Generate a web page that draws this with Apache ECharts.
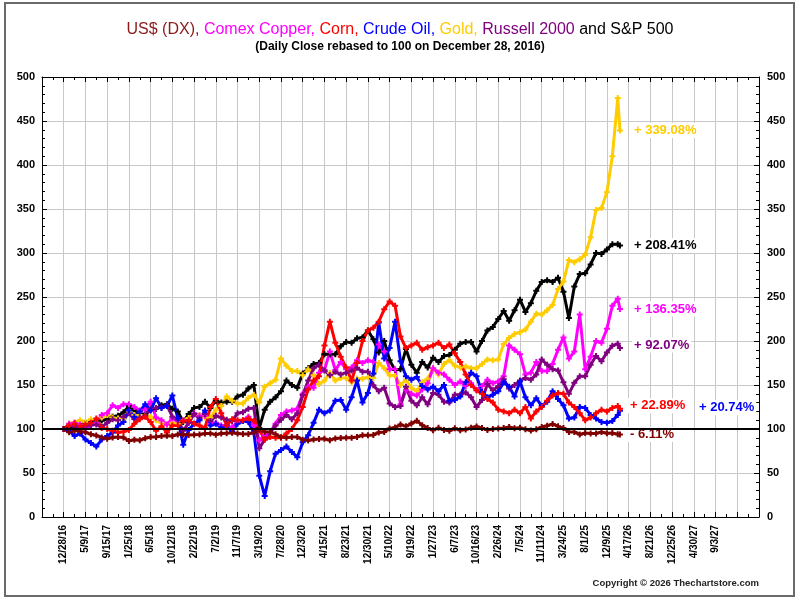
<!DOCTYPE html>
<html>
<head>
    <meta charset="utf-8"/>
    <title>US$ (DX), Comex Copper, Corn, Crude Oil, Gold, Russell 2000 and S&P 500</title>
    <script src="https://cdn.jsdelivr.net/npm/echarts/dist/echarts.min.js"></script>
    <style>
        html, body { margin: 0; padding: 0; background: #fff; }
        #main { position: absolute; left: 0; top: 0; width: 800px; height: 600px; }
        #frame { position: absolute; left: 4px; top: 2px; width: 791px; height: 595px;
                 border: 2px solid #6a6a6a; box-sizing: border-box; pointer-events: none; }
    </style>
</head>
<body>
<div id="main"></div>
<div id="frame"></div>
<script>
    // tick labels, one every 90 trading days starting 12/28/16
    var xLabels = ['12/28/16', '5/9/17', '9/15/17', '1/25/18', '6/5/18', '10/12/18', '2/22/19', '7/2/19',
        '11/7/19', '3/19/20', '7/28/20', '12/3/20', '4/15/21', '8/23/21', '12/30/21', '5/10/22', '9/19/22',
        '1/27/23', '6/7/23', '10/16/23', '2/26/24', '7/5/24', '11/11/24', '3/24/25', '8/1/25', '12/9/25',
        '4/17/26', '8/21/26', '12/25/26', '4/30/27', '9/3/27'];

    var spx = [100, 101, 106, 104.5, 106.5, 108, 108.6, 109.6, 111, 114, 115, 119,
        126, 121, 117, 117, 122, 123, 127, 128, 123, 120, 108, 117,
        124, 125, 131, 124, 132, 130, 131, 131, 137, 139, 146, 150,
        101, 122, 131, 136, 143, 155, 150, 147, 163, 169, 174, 175,
        185, 185, 185, 194, 199, 198, 203, 204, 212, 202, 187, 200,
        178, 167, 168, 191, 173, 164, 176, 170, 181, 176, 183, 184,
        190, 197, 199, 199, 188, 200, 212, 216, 225, 234, 223, 235,
        247, 233, 243, 257, 267, 269, 267, 272, 256, 226, 262, 276,
        277, 287, 300, 299, 304, 310, 310, 308.41];

    var gold = [100, 106, 107.5, 110, 107.6, 111, 107, 113, 116, 113, 112, 111,
        119, 116, 116, 115, 114, 110, 107, 105, 107, 106, 109, 112.5,
        117, 116, 113, 113, 122, 126, 137, 132, 129, 129, 135.5, 139,
        130, 148, 152, 156, 180, 172, 166, 166, 161, 168, 161, 151,
        155, 164, 155, 158, 158, 153, 157, 157, 159, 158, 175, 169,
        161, 160.5, 150, 156, 147, 143, 153, 157, 169, 162, 174, 178,
        172, 170, 171, 169, 169, 174, 179, 178, 179, 196.5, 203.5, 208,
        210, 213, 222, 231, 230, 235, 241, 259, 267.5, 292, 289.5, 293,
        298, 318, 349, 351, 369, 410, 476, 439.08];

    var copper = [100, 106, 107, 105, 100, 104, 107, 116, 118, 127, 124, 128,
        128, 125, 121, 122, 131, 113, 110, 105, 112, 109, 110, 107,
        118, 115, 115, 106, 107, 104, 103, 102, 108, 110, 114, 104,
        87, 93, 96, 106, 116, 120, 121, 123, 140, 148, 147, 164,
        167, 188, 167, 176, 168, 170, 178, 175, 178, 176, 196, 188,
        168, 168, 128, 144, 140, 138, 145, 152, 169, 164, 162, 156,
        150, 154, 149, 152, 144, 149, 156, 152, 154, 160, 195, 190,
        185, 162, 164, 176, 166, 166, 174, 190, 204, 180, 188, 230,
        168, 182, 200, 198, 214, 240, 248, 236.35];

    var russell = [100, 100.4, 103, 100, 103, 104.6, 105, 102.4, 107, 111, 110, 114,
        118, 111, 113, 115, 123, 124, 124.5, 127, 114, 110.5, 98, 107,
        117, 112, 117, 109, 115, 113, 110.5, 109, 118, 119, 123, 124,
        78, 88, 96, 104, 110.5, 116, 111, 118, 138.5, 155, 169, 173,
        166.5, 161, 165, 162, 164, 166.5, 169.5, 165, 165, 149.6, 143, 147,
        129, 125, 126, 148, 132, 127, 136, 128, 141, 139, 131, 130,
        139, 139, 141.5, 136, 125, 133, 151, 144, 148.5, 156.6, 146, 150,
        155, 158, 156, 162, 179, 173, 168, 166.5, 153, 140, 152.5, 160,
        160, 173, 183, 177, 187, 194.5, 197, 192.07];

    var corn = [100, 104, 106, 103, 105, 107, 112, 101, 100, 98, 96, 97,
        99, 106, 111, 114, 108, 98, 103, 96, 104, 104, 109, 110,
        106, 104, 101, 125, 134, 118, 104, 111, 110, 110, 112, 109,
        99, 88, 91, 90, 90, 95, 100, 110, 125, 145, 155, 160,
        195, 222, 198, 182, 170, 155, 175, 200, 212, 215, 222, 236,
        245, 240, 205, 192, 195, 198, 190, 193, 195, 198, 192, 196,
        186, 176, 162, 150, 144, 140, 134, 130, 122, 120, 118, 122,
        118, 125, 112, 120, 125, 132, 138, 141, 140, 130, 125, 118,
        110, 113, 118, 122, 120, 124, 126, 122.89];

    var crude = [100, 98, 92, 95, 88, 84, 80, 88, 92, 96, 104, 108,
        121, 114, 120, 128, 121, 135, 124, 126, 138, 112, 82, 99,
        106, 110, 121, 104, 106, 102, 104, 97, 106, 109, 108, 96,
        47, 24, 52, 72, 76, 80, 74, 68, 85, 93, 107, 122,
        118, 121, 132, 133, 122, 136, 155, 130, 141, 163, 221, 180,
        192, 222, 177, 160, 156, 159, 149, 145, 148, 143, 150, 132,
        133, 137, 153, 164, 160, 142, 136, 139, 143, 153, 148, 137,
        154, 136, 127, 135, 126, 131, 143, 134, 127, 112, 113, 125,
        124, 116, 112, 108, 107, 109, 116, 120.74];

    var dx = [100, 96.3, 98.3, 97.3, 96.4, 94, 92.6, 90.4, 89, 90.3, 91, 90.4,
        86.3, 87.7, 87.2, 89.4, 90.9, 91, 92, 92.2, 92, 93.8, 93.7, 93.2,
        93.4, 93.7, 94.9, 95, 93.6, 94.9, 95.3, 95.7, 95, 94.3, 94.3, 95.9,
        99.5, 97, 96.7, 94, 90.7, 90, 90.9, 91, 87.8, 87, 88, 88.7,
        88.8, 87.3, 89.3, 89.8, 90, 90.1, 90.9, 93, 92.8, 93.3, 96.1, 96.6,
        100.6, 101.7, 105, 103, 106.2, 109.3, 104.4, 101, 98.6, 101.3, 98.8, 98,
        100.8, 98.5, 99.3, 101.4, 102.8, 101, 98.9, 100, 100.5, 101.2, 102.3, 100.8,
        101.5, 99.6, 98.4, 99.6, 102.2, 103.6, 105.8, 103, 101, 96.6, 96.7, 93.8,
        95.5, 95, 95, 96.5, 95.2, 95.5, 94, 93.89];

    // trading-day position of each sample (the last close sits a little after the last sample)
    var sampleDays = dx.map(function (v, i) { return i < dx.length - 1 ? i * 22.5 : 2304; });

    var FONT = "'Liberation Sans', Arial, sans-serif";
    var plus = 'path://M2,0h2v2h2v2h-2v2h-2v-2h-2v-2h2z';

    function line(name, vals, color, text, off) {
        return {
            name: name,
            type: 'line',
            xAxisIndex: 0,
            yAxisIndex: 0,
            data: sampleDays.map(function (d, i) { return [d, vals[i]]; }),
            symbol: plus,
            symbolSize: 6,
            lineStyle: {color: color, width: 3},
            itemStyle: {color: color},
            silent: true,
            endLabel: {
                show: true,
                formatter: text,
                color: color,
                fontFamily: FONT,
                fontWeight: 'bold',
                fontSize: 13,
                backgroundColor: '#fff',
                padding: [1, 2],
                distance: 12,
                offset: off
            }
        };
    }

    var myChart = echarts.init(document.getElementById('main'));
    var axisBlack = {show: true, onZero: false, lineStyle: {color: '#000', width: 1}};
    var gridLine = {show: true, lineStyle: {color: '#c8c8c8', width: 1}};
    var tickIn = {show: true, inside: true, length: 5, lineStyle: {color: '#000'}};

    var option = {
        animation: false,
        backgroundColor: '#fff',
        title: {
            text: '{dx|US$ (DX),} {cu|Comex Copper,} {co|Corn,} {cl|Crude Oil,} {au|Gold,} {rt|Russell 2000} {sp|and S&P 500}',
            subtext: '(Daily Close rebased to 100 on December 28, 2016)',
            left: 'center',
            top: 17,
            itemGap: 3,
            textStyle: {
                fontFamily: FONT, fontSize: 16, fontWeight: 'normal',
                rich: {
                    dx: {color: '#8b1a1a', fontSize: 16, fontFamily: FONT},
                    cu: {color: '#ff00ff', fontSize: 16, fontFamily: FONT},
                    co: {color: '#ff0000', fontSize: 16, fontFamily: FONT},
                    cl: {color: '#0000ff', fontSize: 16, fontFamily: FONT},
                    au: {color: '#ffcc00', fontSize: 16, fontFamily: FONT},
                    rt: {color: '#800080', fontSize: 16, fontFamily: FONT},
                    sp: {color: '#000', fontSize: 16, fontFamily: FONT}
                }
            },
            subtextStyle: {color: '#000', fontFamily: FONT, fontSize: 12, fontWeight: 'bold'}
        },
        grid: {left: 42, right: 41, top: 77, bottom: 83},
        xAxis: [
            {
                type: 'value', min: -90, max: 2880, interval: 90, position: 'bottom',
                axisLine: axisBlack,
                axisTick: tickIn,
                minorTick: {show: true, splitNumber: 2, length: 3, lineStyle: {color: '#000'}},
                splitLine: gridLine,
                axisLabel: {
                    rotate: 90, margin: 8, color: '#000', fontFamily: FONT, fontWeight: 'bold', fontSize: 10,
                    formatter: function (v) {
                        var i = Math.round(v / 90);
                        return (i >= 0 && i < xLabels.length) ? xLabels[i] : '';
                    }
                }
            },
            {
                type: 'value', min: -90, max: 2880, interval: 90, position: 'top',
                axisLine: axisBlack,
                axisTick: tickIn,
                minorTick: {show: true, splitNumber: 2, length: 3, lineStyle: {color: '#000'}},
                splitLine: {show: false},
                axisLabel: {show: false}
            }
        ],
        yAxis: [
            {
                type: 'value', min: 0, max: 500, interval: 50, position: 'left',
                axisLine: axisBlack,
                axisTick: tickIn,
                minorTick: {show: true, splitNumber: 5, length: 3, lineStyle: {color: '#000'}},
                splitLine: gridLine,
                axisLabel: {margin: 7, color: '#000', fontFamily: FONT, fontWeight: 'bold', fontSize: 11}
            },
            {
                type: 'value', min: 0, max: 500, interval: 50, position: 'right',
                axisLine: axisBlack,
                axisTick: tickIn,
                minorTick: {show: true, splitNumber: 5, length: 3, lineStyle: {color: '#000'}},
                splitLine: {show: false},
                axisLabel: {margin: 8, color: '#000', fontFamily: FONT, fontWeight: 'bold', fontSize: 11}
            }
        ],
        graphic: [{
            type: 'text',
            right: 41,
            top: 578,
            style: {
                text: 'Copyright \u00a9 2026 Thechartstore.com',
                fill: '#222',
                font: 'bold 9.5px ' + FONT
            }
        }],
        series: [
            {
                // base line at 100
                type: 'line', data: [], z: 1, silent: true,
                markLine: {
                    silent: true, symbol: 'none', label: {show: false},
                    lineStyle: {color: '#000', width: 2, type: 'solid'},
                    data: [{yAxis: 100}]
                }
            },
            line('S&P 500', spx, '#000000', '+ 208.41%', [0, 0]),
            line('Gold', gold, '#ffcc00', '+ 339.08%', [0, 0]),
            line('Comex Copper', copper, '#ff00ff', '+ 136.35%', [0, 0]),
            line('Russell 2000', russell, '#800080', '+ 92.07%', [0, -3]),
            line('Crude Oil', crude, '#0000ff', '+ 20.74%', [65, -3]),
            line('Corn', corn, '#ff0000', '+ 22.89%', [-4, -3]),
            line('US$ (DX)', dx, '#800000', '- 6.11%', [-4, 0])
        ]
    };

    myChart.setOption(option);

    window.onresize = function () {
        myChart.resize();
    };
</script>
</body>
</html>
